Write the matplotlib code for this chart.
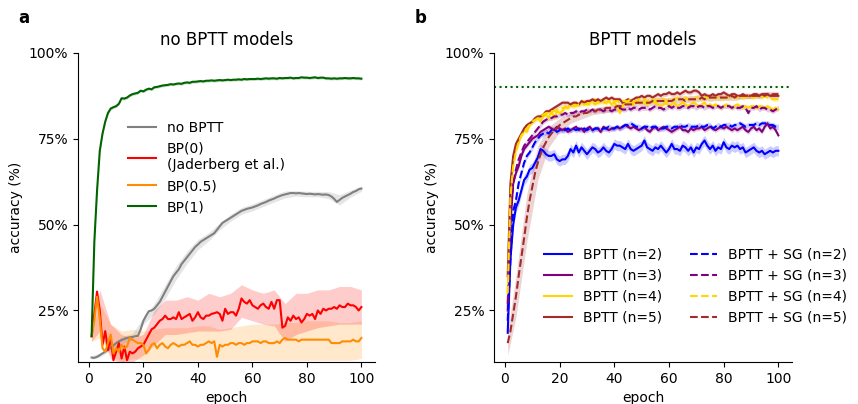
import numpy as np
import matplotlib
matplotlib.use("Agg")
import matplotlib.pyplot as plt
from matplotlib.ticker import FuncFormatter

epochs = list(range(1, 101))
band_epochs = [1, 4, 8, 12, 16, 20, 24, 28, 32, 36, 40, 44, 48, 52, 56, 60, 64, 68, 72, 76, 80, 84, 88, 92, 96, 100]

# ---------------- panel a: no BPTT models ----------------
bp1 = [17.5, 45, 60, 71.5, 76.5, 80, 82.5, 83.8, 84.2, 84.5,
       85.2, 86.8, 86.7, 87.0, 87.6, 88.0, 88.2, 88.4, 89.0, 88.8,
       89.3, 89.6, 89.4, 90.0, 90.1, 90.3, 90.5, 90.6, 90.7, 90.9,
       90.8, 91.0, 91.1, 91.0, 91.3, 91.4, 91.3, 91.6, 91.6, 91.7,
       91.8, 91.7, 91.9, 91.9, 92.0, 91.9, 92.0, 92.1, 92.0, 92.1,
       92.2, 92.1, 92.2, 92.2, 92.3, 92.2, 92.4, 92.3, 92.4, 92.4,
       92.4, 92.5, 92.4, 92.5, 92.6, 92.5, 92.6, 92.6, 92.5, 92.7,
       92.6, 92.7, 92.7, 92.8, 92.6, 92.7, 92.7, 92.9, 92.8, 92.8,
       92.7, 92.8, 92.9, 92.7, 92.8, 92.8, 92.6, 92.6, 92.5, 92.6,
       92.5, 92.6, 92.6, 92.7, 92.6, 92.6, 92.7, 92.6, 92.6, 92.5]
nobptt = [11.3, 11.2, 11.5, 12.0, 12.5, 13.0, 13.5, 14.2, 14.8, 15.5,
          16.0, 16.4, 16.7, 17.0, 17.2, 17.3, 17.5, 17.6, 19.5, 22.0,
          23.5, 24.8, 25.0, 25.5, 26.5, 27.5, 29.0, 30.5, 32.0, 33.5,
          35.0, 36.0, 37.0, 38.5, 39.5, 40.5, 41.5, 42.5, 43.5, 44.2,
          45.0, 45.5, 46.0, 46.5, 47.0, 47.5, 48.5, 49.5, 50.5, 51.0,
          51.5, 52.0, 52.5, 53.0, 53.5, 54.0, 54.3, 54.6, 54.8, 55.0,
          55.3, 55.6, 56.0, 56.3, 56.6, 57.0, 57.3, 57.6, 58.0, 58.3,
          58.6, 58.8, 59.0, 59.2, 59.2, 59.1, 59.2, 59.1, 59.0, 58.9,
          59.0, 58.9, 58.8, 58.9, 58.8, 58.7, 58.8, 58.6, 58.2, 57.5,
          56.6, 57.2, 57.8, 58.2, 58.6, 59.0, 59.5, 59.8, 60.3, 60.5]
bp0 = [17.5, 24.0, 30.5, 25.0, 15.0, 19.0, 13.5, 17.0, 10.5, 13.0,
       15.5, 11.0, 14.5, 10.5, 13.0, 12.5, 13.0, 14.0, 14.5, 15.0,
       16.5, 18.0, 19.5, 20.0, 21.0, 22.0, 22.5, 23.5, 22.5, 22.5,
       23.0, 22.5, 24.5, 22.5, 23.0, 23.5, 24.0, 22.0, 23.0, 24.5,
       23.0, 22.5, 23.5, 23.5, 24.0, 24.2, 24.5, 24.0, 22.0, 25.5,
       24.0, 24.5, 24.5, 23.5, 25.5, 28.5, 27.5, 27.0, 28.0, 26.5,
       26.0, 25.5, 26.5, 27.0, 26.0, 25.5, 27.5, 25.5, 28.0, 28.0,
       20.0, 20.5, 23.0, 22.0, 23.5, 22.5, 23.0, 21.5, 22.5, 24.0,
       23.5, 24.0, 22.5, 25.0, 24.0, 25.5, 25.0, 25.5, 25.5, 26.0,
       25.5, 26.5, 26.0, 26.0, 27.0, 26.5, 26.5, 26.0, 25.0, 26.0]
bp05 = [17.5, 22.0, 29.0, 22.5, 14.0, 13.0, 15.5, 18.0, 12.5, 14.0,
        13.0, 15.0, 14.0, 14.5, 17.0, 16.5, 16.0, 15.5, 15.5, 15.0,
        12.5, 13.5, 15.0, 15.5, 14.0, 15.0, 15.5, 14.5, 14.0, 15.0,
        15.5, 15.0, 14.5, 15.0, 15.0, 15.5, 16.0, 15.0, 15.0, 14.5,
        15.0, 15.0, 15.5, 16.0, 15.5, 16.0, 11.5, 15.0, 14.5, 15.0,
        15.0, 15.5, 15.5, 15.0, 15.5, 15.5, 15.0, 15.5, 15.5, 16.0,
        16.0, 16.0, 15.5, 16.0, 16.0, 15.5, 15.5, 15.5, 16.0, 15.5,
        16.5, 17.0, 16.5, 16.5, 16.5, 16.5, 16.0, 16.5, 16.5, 16.5,
        16.5, 16.5, 16.5, 16.5, 16.5, 16.5, 16.5, 16.5, 15.5, 15.5,
        15.5, 15.5, 16.0, 16.0, 16.0, 16.0, 16.5, 16.0, 16.0, 17.0]

bp0_hi = [19, 31, 21, 18, 17, 18, 25, 28, 28, 29, 28, 30, 29, 30, 32.5, 31, 30, 31, 27, 30, 30, 31, 31, 32, 32, 31]
bp0_lo = [16, 19, 11, 9.5, 10, 12, 15, 18, 18, 18.5, 19, 19, 19, 19.5, 23, 22, 21, 20.5, 16, 18, 19, 20, 20.5, 21, 21, 21]
bp05_hi = [19, 27, 21, 19, 19.5, 19, 19.5, 20, 20, 20, 20.5, 20.5, 19.5, 20, 20.5, 21, 21, 21, 21.5, 21.5, 22, 22, 22, 21.5, 21.5, 22]
bp05_lo = [16, 17, 12, 10, 11, 10.5, 10.5, 10.5, 10.5, 10.5, 10.5, 10.5, 10.5, 10.5, 10.5, 10.5, 10.5, 10.5, 10.5, 10.5, 10.5, 10.5, 10.5, 10.5, 10.5, 11]
nobptt_hw = [0.5, 0.6, 0.8, 1.0, 1.0, 1.0, 1.5, 2.0, 2.0, 1.8, 1.5, 1.2, 1.0, 1.0, 1.0, 1.0, 1.0, 1.0, 1.0, 0.8, 0.8, 0.8, 1.0, 1.5, 1.0, 0.8]
bp1_hw = 0.4

# ---------------- panel b: BPTT models ----------------
bptt2 = [18.5, 40, 50, 55, 57, 60, 63, 64, 66, 66.5,
         68, 69.5, 72, 71.5, 70.5, 70, 70, 70.5, 69, 68.5,
         69, 69, 70, 72, 71, 73, 71, 72.5, 71.5, 70.5,
         71.5, 72.5, 72, 71, 71.5, 72.5, 71.5, 71, 72, 73.5,
         73, 73, 72.5, 72, 73.5, 72, 71.5, 72, 72.5, 73,
         74.5, 72.5, 72, 71.5, 72.5, 72, 73, 72, 71, 72,
         73.5, 72, 72, 71.5, 73, 72.5, 71.5, 72.5, 71, 72.5,
         72, 73.5, 74.5, 73, 72, 73, 71.5, 72.5, 72, 74,
         72.5, 72, 73, 72.5, 73, 72, 72.5, 71, 71.5, 72,
         72.5, 71.5, 71, 71.5, 70.5, 71, 71.5, 71, 71.5, 71.5]
bptt3 = [25, 50, 62, 65, 67, 70, 72, 73, 74, 75,
         75.5, 76, 77, 77.5, 78, 78.5, 78, 77.5, 78.5, 78,
         77.5, 78, 77, 77.5, 78, 78.5, 77.5, 78, 77, 78,
         78.5, 77.5, 78, 78, 77, 78.5, 78, 77.5, 78, 78,
         78.5, 78, 78.5, 79, 78.5, 78, 78.5, 78, 77.5, 78,
         78.5, 77.5, 77, 78, 78.5, 77.5, 78, 78.5, 78, 77.5,
         77, 77.5, 78, 78.5, 77.5, 77.5, 77, 78, 77.5, 78,
         78, 78.5, 77.5, 78, 78.5, 78, 77.5, 78, 78.5, 78,
         78.5, 78, 77.5, 78, 77.5, 78, 78.5, 77.5, 77, 78,
         78.5, 77.5, 78, 77, 78.5, 79.5, 78, 78.5, 77.5, 76]
bptt4 = [30, 60, 68, 72, 74, 76, 77.5, 77, 79, 80,
         80.5, 81, 80, 81.5, 82, 81, 83, 81, 83, 82.5,
         83, 84.5, 84, 85, 84.5, 85.5, 85, 85.5, 86, 85.5,
         85.5, 86, 86.5, 85.5, 86, 86.5, 85.5, 86, 85, 85.5,
         84.5, 82.5, 84.5, 85.5, 86, 85.5, 85, 86, 85.5, 85.5,
         85.5, 85, 85.5, 86, 85.5, 85, 84.5, 85, 85.5, 84.5,
         85, 85.5, 84.5, 85, 85.5, 85, 84.5, 85, 85.5, 85,
         84.5, 85, 85.5, 84.5, 85, 84.5, 85, 84.5, 84, 84.5,
         85, 84.5, 84, 84.5, 85, 84.5, 84, 84.5, 84, 84.5,
         84.5, 84, 84.5, 84.5, 84, 84.5, 84, 83.5, 84, 83.5]
bptt5 = [35, 62, 70, 73.5, 75, 76.5, 78, 79, 79.5, 80,
         81, 81.5, 81.5, 82, 83, 83, 83.5, 84, 84.5, 85,
         85.5, 85.5, 85.5, 85, 85.5, 85.5, 85, 86, 85.5, 86,
         86, 86.5, 86, 86.5, 86, 86.5, 87, 86.5, 87, 86.5,
         86.5, 86.5, 85.5, 86, 86.5, 86, 86.5, 87, 87, 87.5,
         87, 87.5, 87.5, 87, 87.5, 88, 87.5, 88, 88, 88.5,
         88, 88, 88.5, 88, 88.5, 89, 88.5, 88.5, 89, 89,
         88.5, 87.5, 88, 87.5, 87.5, 88, 87.5, 88, 88, 88.5,
         88, 87.5, 88, 88, 87.5, 87.5, 88, 87.5, 87.5, 87.5,
         88, 88, 87.5, 88, 88, 88, 87.5, 87.5, 87.5, 87.5]
sg2 = [22, 40, 54, 57, 62, 65, 68, 70, 71, 72.5,
       74, 75, 76, 76.5, 77, 76.5, 77.5, 78, 77, 77.5,
       77.5, 77.5, 78, 77.5, 78, 77.5, 78, 77.5, 78, 77.5,
       78, 77.5, 78, 78, 77.5, 78, 78, 78.5, 78, 78,
       78.5, 78, 78.5, 79, 79, 79.5, 79, 78.5, 78.5, 78,
       78.5, 78.5, 78, 78.5, 78.5, 78, 78, 78, 78.5, 78.5,
       78, 78.5, 78.5, 79, 78.5, 78.5, 79, 78.5, 78.5, 78.5,
       79, 78.5, 78.5, 79, 79, 78, 78.5, 79, 78.5, 79,
       79, 79, 78.5, 79, 79, 79.5, 79, 78.5, 79, 79,
       79, 79.5, 79, 79.5, 79.5, 79.5, 79, 79, 78.5, 78.5]
sg3 = [27, 52, 62, 66, 69, 71, 73, 74, 75, 76,
       77, 78, 79, 80, 80.5, 81, 81, 81.5, 81.5, 82,
       82, 82.5, 82, 82.5, 82.5, 83, 82.5, 83, 83, 83.5,
       83, 83.5, 83, 83.5, 83.5, 83, 83.5, 83.5, 83, 83.5,
       83.5, 84, 83.5, 83.5, 84, 83.5, 84, 84, 83.5, 84,
       84, 84, 83.5, 84, 84.5, 84, 84, 83.5, 84, 84.5,
       84, 84.5, 84, 84, 84.5, 84.5, 84, 84.5, 84.5, 84,
       84.5, 84.5, 84, 84.5, 84.5, 84, 84.5, 84.5, 84, 84.5,
       84.5, 84.5, 84, 84.5, 84, 84, 84.5, 84, 82.5, 84,
       84, 84.5, 83.5, 84, 84, 83.5, 83.5, 83, 83.5, 84]
sg4 = [30, 58, 67, 71, 74, 76, 77, 78, 79, 80,
       80.5, 81, 81.5, 82, 82.5, 82.5, 83, 83, 83.5, 83.5,
       84, 84, 84, 84.5, 84.5, 84.5, 85, 85, 85, 85,
       85, 85.5, 85, 85.5, 85.5, 85.5, 85.5, 86, 85.5, 86,
       86, 85.5, 86, 86, 86, 86.5, 86, 86, 86.5, 86,
       86.5, 86, 86.5, 86.5, 86, 86.5, 86.5, 86.5, 86, 86.5,
       86.5, 86.5, 87, 86.5, 86.5, 87, 86.5, 87, 86.5, 87,
       87, 86.5, 87, 87, 86.5, 87, 87, 87, 86.5, 87,
       87, 87, 87.5, 87, 87, 87.5, 87, 87, 87.5, 87,
       87, 87.5, 87, 87, 87.5, 87, 87, 86.5, 86.5, 86.5]
sg5 = [15.5, 19, 24, 29, 35, 40.5, 46, 52, 57, 61,
       65, 68, 70.5, 72.5, 74, 75.5, 76.5, 77.5, 78, 79,
       79.5, 80, 80.5, 81, 81.5, 81.5, 82, 82, 82.5, 82.5,
       83, 83, 83, 83.5, 83.5, 83.5, 84, 84, 84, 84,
       84.5, 84.5, 84.5, 85, 85, 85, 85, 85.5, 85.5, 85.5,
       85.5, 85.5, 85.5, 86, 86, 86, 86, 86, 86, 86,
       86, 86.5, 86.5, 86.5, 86.5, 86, 86.5, 86.5, 86.5, 86.5,
       86.5, 87, 86.5, 87, 87, 87, 87, 87, 87, 87,
       87, 87, 87.5, 87, 87.5, 87.5, 87.5, 87.5, 87.5, 87.5,
       87.5, 87.5, 87.5, 88, 87.5, 88, 87.5, 88, 88, 88]
sg5_hw = [3.5, 6.0, 7.0, 5.0, 3.0, 2.0, 1.5, 1.2, 1.0, 1.0, 1.0, 1.0, 1.0, 1.0, 1.0, 1.0, 1.0, 1.0, 1.0, 1.0, 0.8, 0.8, 0.8, 0.8, 0.8, 0.8]
hw_b = {"bptt2": 1.5, "bptt3": 0.7, "bptt4": 0.7, "bptt5": 0.7,
        "sg2": 0.8, "sg3": 0.7, "sg4": 0.7, "sg5": None}

labels_a = ["no BPTT", "BP(0)\n(Jaderberg et al.)", "BP(0.5)", "BP(1)"]
labels_b = ["BPTT (n=2)", "BPTT (n=3)", "BPTT (n=4)", "BPTT (n=5)",
            "BPTT + SG (n=2)", "BPTT + SG (n=3)", "BPTT + SG (n=4)", "BPTT + SG (n=5)"]
bp1_ref = 90

plt.rcParams['font.family'] = ['DejaVu Sans']
fig = plt.figure(figsize=(8.58, 4.04), dpi=100)
axa = fig.add_axes([0.0909, 0.104, 0.3462, 0.765])
axb = fig.add_axes([0.5758, 0.104, 0.3473, 0.765])

ep = np.array(epochs)
bep = np.array(band_epochs)
idx = bep - 1

def band_at(series):
    return np.array(series)[idx]

# panel a
lw = 1.5
axa.fill_between(bep, bp05_lo, bp05_hi, color='darkorange', alpha=0.2, lw=0)
axa.fill_between(bep, bp0_lo, bp0_hi, color='red', alpha=0.2, lw=0)
axa.fill_between(bep, band_at(nobptt) - np.array(nobptt_hw), band_at(nobptt) + np.array(nobptt_hw),
                 color='grey', alpha=0.2, lw=0)
axa.fill_between(ep, np.array(bp1) - bp1_hw, np.array(bp1) + bp1_hw, color='darkgreen', alpha=0.2, lw=0)
la1, = axa.plot(ep, nobptt, color='grey', lw=lw)
la2, = axa.plot(ep, bp0, color='red', lw=lw)
la3, = axa.plot(ep, bp05, color='darkorange', lw=lw)
la4, = axa.plot(ep, bp1, color='darkgreen', lw=lw)
axa.legend([la1, la2, la3, la4], labels_a, loc='upper left', bbox_to_anchor=(0.126, 0.82),
           frameon=False, fontsize=10)
axa.set_title("no BPTT models", fontsize=12)

# panel b
series_b = [("bptt2", bptt2, 'blue', '-'), ("bptt3", bptt3, 'purple', '-'),
            ("bptt4", bptt4, 'gold', '-'), ("bptt5", bptt5, 'brown', '-'),
            ("sg2", sg2, 'blue', '--'), ("sg3", sg3, 'purple', '--'),
            ("sg4", sg4, 'gold', '--'), ("sg5", sg5, 'brown', '--')]
for key, s, c, ls in series_b:
    s = np.array(s)
    if hw_b[key] is None:
        axb.fill_between(bep, s[idx] - np.array(sg5_hw), s[idx] + np.array(sg5_hw), color=c, alpha=0.2, lw=0)
    else:
        axb.fill_between(ep, s - hw_b[key], s + hw_b[key], color=c, alpha=0.2, lw=0)
handles = []
for key, s, c, ls in series_b:
    h, = axb.plot(ep, s, color=c, ls=ls, lw=lw)
    handles.append(h)
axb.axhline(bp1_ref, color='darkgreen', ls=':', lw=1.5)
axb.legend(handles, labels_b, loc='upper left', bbox_to_anchor=(0.125, 0.41), ncol=2,
           frameon=False, fontsize=10)
axb.set_title("BPTT models", fontsize=12)

for ax in (axa, axb):
    ax.set_xlim(-4, 105)
    ax.set_ylim(10, 100)
    ax.set_xticks([0, 20, 40, 60, 80, 100])
    ax.set_yticks([25, 50, 75, 100])
    ax.yaxis.set_major_formatter(FuncFormatter(lambda v, p: f"{v:.0f}%"))
    ax.tick_params(labelsize=10)
    ax.spines['top'].set_visible(False)
    ax.spines['right'].set_visible(False)
    ax.set_xlabel("epoch", fontsize=10)
    ax.set_ylabel("accuracy (%)", fontsize=10)

fig.text(0.028, 0.955, "a", fontsize=12, fontweight='bold', va='center', ha='center')
fig.text(0.49, 0.955, "b", fontsize=12, fontweight='bold', va='center', ha='center')

fig.savefig("out.png", dpi=100)
